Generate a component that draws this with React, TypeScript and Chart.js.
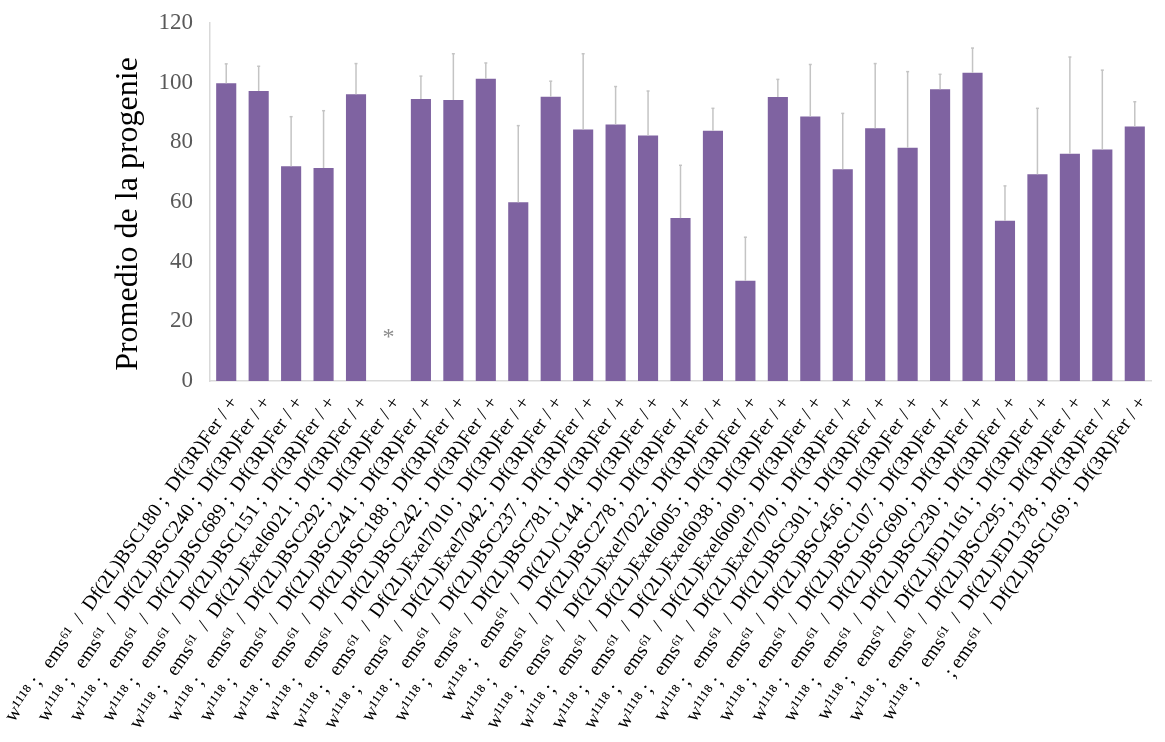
import React, { useEffect, useRef } from 'react';
import { Chart, registerables } from 'chart.js';

Chart.register(...registerables);

// Genotype of each cross (ems61 over a 2L deficiency, with Df(3R)Fer / +)
const categories: string[] = [
  'w¹¹¹⁸ ;\u2002 ems⁶¹\u2002/\u2002Df(2L)BSC180 ;\u2002Df(3R)Fer / +',
  'w¹¹¹⁸ ;\u2002 ems⁶¹\u2002/\u2002Df(2L)BSC240 ;\u2002Df(3R)Fer / +',
  'w¹¹¹⁸ ;\u2002 ems⁶¹\u2002/\u2002Df(2L)BSC689 ;\u2002Df(3R)Fer / +',
  'w¹¹¹⁸ ;\u2002 ems⁶¹\u2002/\u2002Df(2L)BSC151 ;\u2002Df(3R)Fer / +',
  'w¹¹¹⁸ ;\u2002 ems⁶¹\u2002/\u2002Df(2L)Exel6021 ;\u2002Df(3R)Fer / +',
  'w¹¹¹⁸ ;\u2002 ems⁶¹\u2002/\u2002Df(2L)BSC292 ;\u2002Df(3R)Fer / +',
  'w¹¹¹⁸ ;\u2002 ems⁶¹\u2002/\u2002Df(2L)BSC241 ;\u2002Df(3R)Fer / +',
  'w¹¹¹⁸ ;\u2002 ems⁶¹\u2002/\u2002Df(2L)BSC188 ;\u2002Df(3R)Fer / +',
  'w¹¹¹⁸ ;\u2002 ems⁶¹\u2002/\u2002Df(2L)BSC242 ;\u2002Df(3R)Fer / +',
  'w¹¹¹⁸ ;\u2002 ems⁶¹\u2002/\u2002Df(2L)Exel7010 ;\u2002Df(3R)Fer / +',
  'w¹¹¹⁸ ;\u2002 ems⁶¹\u2002/\u2002Df(2L)Exel7042 ;\u2002Df(3R)Fer / +',
  'w¹¹¹⁸ ;\u2002 ems⁶¹\u2002/\u2002Df(2L)BSC237 ;\u2002Df(3R)Fer / +',
  'w¹¹¹⁸ ;\u2002 ems⁶¹\u2002/\u2002Df(2L)BSC781 ;\u2002Df(3R)Fer / +',
  'w¹¹¹⁸ ;\u2002 ems⁶¹\u2002/\u2002Df(2L)C144 ;\u2002Df(3R)Fer / +',
  'w¹¹¹⁸ ;\u2002 ems⁶¹\u2002/\u2002Df(2L)BSC278 ;\u2002Df(3R)Fer / +',
  'w¹¹¹⁸ ;\u2002 ems⁶¹\u2002/\u2002Df(2L)Exel7022 ;\u2002Df(3R)Fer / +',
  'w¹¹¹⁸ ;\u2002 ems⁶¹\u2002/\u2002Df(2L)Exel6005 ;\u2002Df(3R)Fer / +',
  'w¹¹¹⁸ ;\u2002 ems⁶¹\u2002/\u2002Df(2L)Exel6038 ;\u2002Df(3R)Fer / +',
  'w¹¹¹⁸ ;\u2002 ems⁶¹\u2002/\u2002Df(2L)Exel6009 ;\u2002Df(3R)Fer / +',
  'w¹¹¹⁸ ;\u2002 ems⁶¹\u2002/\u2002Df(2L)Exel7070 ;\u2002Df(3R)Fer / +',
  'w¹¹¹⁸ ;\u2002 ems⁶¹\u2002/\u2002Df(2L)BSC301 ;\u2002Df(3R)Fer / +',
  'w¹¹¹⁸ ;\u2002 ems⁶¹\u2002/\u2002Df(2L)BSC456 ;\u2002Df(3R)Fer / +',
  'w¹¹¹⁸ ;\u2002 ems⁶¹\u2002/\u2002Df(2L)BSC107 ;\u2002Df(3R)Fer / +',
  'w¹¹¹⁸ ;\u2002 ems⁶¹\u2002/\u2002Df(2L)BSC690 ;\u2002Df(3R)Fer / +',
  'w¹¹¹⁸ ;\u2002 ems⁶¹\u2002/\u2002Df(2L)BSC230 ;\u2002Df(3R)Fer / +',
  'w¹¹¹⁸ ;\u2002 ems⁶¹\u2002/\u2002Df(2L)ED1161 ;\u2002Df(3R)Fer / +',
  'w¹¹¹⁸ ;\u2002 ems⁶¹\u2002/\u2002Df(2L)BSC295 ;\u2002Df(3R)Fer / +',
  'w¹¹¹⁸ ;\u2002 ems⁶¹\u2002/\u2002Df(2L)ED1378 ;\u2002Df(3R)Fer / +',
  '; ems⁶¹\u2002/\u2002Df(2L)BSC169 ;\u2002Df(3R)Fer / +',
];

// Mean progeny per cross
const progenyMean: number[] = [
  99.8, 97.2, 72.0, 71.4, 96.1, 0, 94.5, 94.2, 101.3, 59.9,
  95.3, 84.3, 86.0, 82.3, 54.6, 83.9, 33.6, 95.2, 88.7, 71.0,
  84.7, 78.2, 97.8, 103.3, 53.7, 69.3, 76.2, 77.6, 85.3,
];

// Standard deviation (upper error bar only)
const progenySd: number[] = [
  6.5, 8.3, 16.6, 19.2, 10.3, 0, 7.7, 15.5, 5.3, 25.7,
  5.2, 25.4, 12.7, 14.9, 17.7, 7.5, 14.6, 5.9, 17.4, 18.7,
  21.7, 25.5, 5.0, 8.3, 11.7, 22.1, 32.4, 26.6, 8.3,
];

// Crosses that gave no progeny are flagged with an asterisk
const flags: string[] = [
  '', '', '', '', '', '*', '', '', '', '',
  '', '', '', '', '', '', '', '', '', '',
  '', '', '', '', '', '', '', '', '',
];
const FLAG_LEVEL = 16;

const yTicks: number[] = [0, 20, 40, 60, 80, 100, 120];

const errorBarPlugin = {
  id: 'upperErrorBars',
  afterDatasetsDraw(chart: any) {
    const meta = chart.getDatasetMeta(0);
    const yScale = chart.scales.y;
    const ctx = chart.ctx;
    ctx.save();
    ctx.strokeStyle = '#c4c4c4';
    ctx.lineWidth = 1.5;
    meta.data.forEach((bar: any, i: number) => {
      const sd = progenySd[i];
      if (!sd) return;
      const x = bar.x;
      const y0 = yScale.getPixelForValue(progenyMean[i]);
      const y1 = yScale.getPixelForValue(progenyMean[i] + sd);
      ctx.beginPath();
      ctx.moveTo(x, y0);
      ctx.lineTo(x, y1);
      ctx.stroke();
      ctx.beginPath();
      ctx.moveTo(x - 1.5, y1);
      ctx.lineTo(x + 1.5, y1);
      ctx.stroke();
    });
    ctx.fillStyle = '#8c8c8c';
    ctx.font = '24px "Liberation Serif", serif';
    ctx.textAlign = 'center';
    ctx.textBaseline = 'middle';
    meta.data.forEach((bar: any, i: number) => {
      if (!flags[i]) return;
      ctx.fillText(flags[i], bar.x, yScale.getPixelForValue(FLAG_LEVEL) + 4);
    });
    ctx.restore();
  },
};

export default function App() {
  const canvasRef = useRef<HTMLCanvasElement | null>(null);

  useEffect(() => {
    const canvas = canvasRef.current;
    if (!canvas) return;
    const chart = new Chart(canvas, {
      type: 'bar',
      data: {
        labels: categories,
        datasets: [
          {
            data: progenyMean,
            backgroundColor: '#7f63a1',
            borderWidth: 0,
            barPercentage: 0.62,
            categoryPercentage: 1,
          },
        ],
      },
      plugins: [errorBarPlugin],
      options: {
        responsive: false,
        animation: false,
        layout: { padding: { top: 23, right: 14, left: 0, bottom: 0 } },
        plugins: {
          legend: { display: false },
          tooltip: { enabled: false },
        },
        scales: {
          x: {
            grid: { display: false },
            border: { display: true, color: '#d9d9d9', width: 1.5 },
            ticks: {
              autoSkip: false,
              minRotation: 55,
              maxRotation: 55,
              padding: 3,
              labelOffset: 8,
              color: '#000000',
              font: { family: '"Liberation Serif", serif', size: 20 },
            },
            afterFit: (scale: any) => {
              scale.height = 361;
              scale.paddingLeft = 0;
              scale.paddingRight = 0;
            },
          },
          y: {
            min: 0,
            max: 120,
            afterBuildTicks: (scale: any) => {
              scale.ticks = yTicks.map((v) => ({ value: v }));
            },
            grid: { display: false, drawTicks: false },
            border: { display: true, color: '#d9d9d9', width: 1.5 },
            ticks: {
              padding: 17,
              color: '#595959',
              font: { family: '"Liberation Serif", serif', size: 23 },
            },
            title: {
              display: true,
              text: 'Promedio de la progenie   ',
              color: '#000000',
              font: { family: '"Liberation Serif", serif', size: 32 },
              padding: { top: 109, bottom: 0 },
            },
            afterFit: (scale: any) => {
              scale.width = 210;
              scale.paddingTop = 0;
              scale.paddingBottom = 0;
            },
          },
        },
      },
    });
    return () => chart.destroy();
  }, []);

  return (
    <div style={{ position: 'absolute', left: 0, top: 0, width: 1165, height: 742, background: '#ffffff' }}>
      <canvas ref={canvasRef} width={1165} height={742} />
    </div>
  );
}
